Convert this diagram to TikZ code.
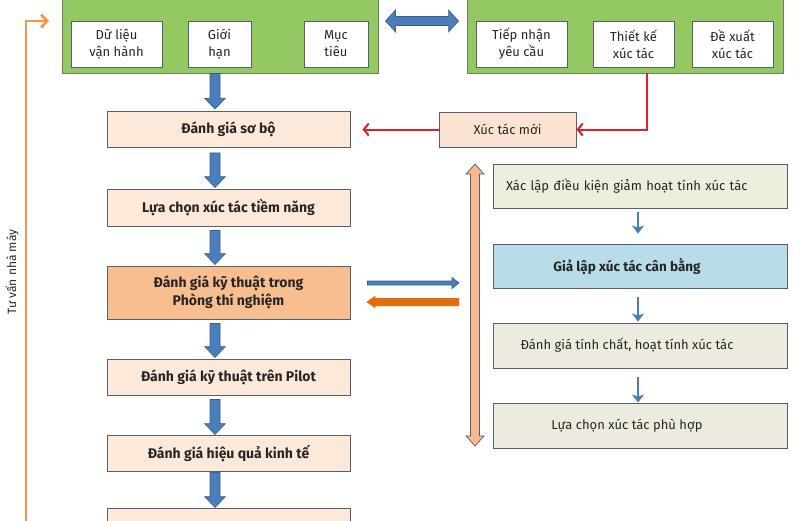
\documentclass[tikz,border=0pt]{standalone}
\usepackage{fontspec}
\setmainfont{Fira Sans}
\usetikzlibrary{calc,arrows.meta}
\definecolor{grnfill}{HTML}{93C862}
\definecolor{grnedge}{HTML}{6A7F5A}
\definecolor{edge}{HTML}{55606B}
\definecolor{peach}{HTML}{FDE9D9}
\definecolor{peachdark}{HTML}{F9BE8F}
\definecolor{xtmfill}{HTML}{FBE3D3}
\definecolor{r1fill}{HTML}{EAF0DC}
\definecolor{r2fill}{HTML}{B8DDE8}
\definecolor{r3fill}{HTML}{EDEBE0}
\definecolor{bluearr}{HTML}{4A7EBB}
\definecolor{blueedge}{HTML}{3A5F8F}
\definecolor{lorange}{HTML}{F9B98A}
\definecolor{orangeline}{HTML}{F79646}
\definecolor{dorange}{HTML}{E46C0A}
\definecolor{redline}{HTML}{E31E24}
\definecolor{txt}{HTML}{262626}
\begin{document}
\begin{tikzpicture}[x=1pt,y=-1pt,
  bx/.style={draw=edge, line width=0.9pt, inner sep=0pt, text=txt},
  grn/.style={bx, fill=grnfill, draw=grnedge},
  wbox/.style={bx, fill=white, align=center, minimum height=46pt, font=\fontsize{13}{17}\selectfont},
  lbox/.style={bx, fill=peach, minimum width=243pt, minimum height=36pt, align=center, font=\bfseries\fontsize{14}{18}\selectfont},
  rbox/.style={bx, minimum width=294pt, minimum height=44pt, font=\fontsize{13}{15}\selectfont},
  blk/.style n args={3}{to path={let \p1=(\tikztostart), \p2=(\tikztotarget),
     \n1={atan2(\y2-\y1,\x2-\x1)}, \n2={veclen(\x2-\x1,\y2-\y1)-#3} in
     ($(\p1)+(\n1+90:#1)$) -- ($(\p1)+(\n1:\n2)+(\n1+90:#1)$) -- ($(\p1)+(\n1:\n2)+(\n1+90:#2)$) -- (\p2)
     -- ($(\p1)+(\n1:\n2)+(\n1-90:#2)$) -- ($(\p1)+(\n1:\n2)+(\n1-90:#1)$) -- ($(\p1)+(\n1-90:#1)$) -- cycle}},
  dblk/.style n args={3}{to path={let \p1=(\tikztostart), \p2=(\tikztotarget),
     \n1={atan2(\y2-\y1,\x2-\x1)}, \n2={veclen(\x2-\x1,\y2-\y1)-#3} in
     (\p1) -- ($(\p1)+(\n1:#3)+(\n1+90:#2)$) -- ($(\p1)+(\n1:#3)+(\n1+90:#1)$) -- ($(\p1)+(\n1:\n2)+(\n1+90:#1)$)
     -- ($(\p1)+(\n1:\n2)+(\n1+90:#2)$) -- (\p2) -- ($(\p1)+(\n1:\n2)+(\n1-90:#2)$) -- ($(\p1)+(\n1:\n2)+(\n1-90:#1)$)
     -- ($(\p1)+(\n1:#3)+(\n1-90:#1)$) -- ($(\p1)+(\n1:#3)+(\n1-90:#2)$) -- cycle}},
  bigblue/.style={fill=bluearr, draw=blueedge, line width=0.6pt},
  smallblue/.style={draw=bluearr, line width=2.4pt, -{Stealth[length=8pt,width=12pt,inset=2pt]}},
  redarr/.style={draw=redline, line width=2pt, -{Straight Barb[length=5pt,width=12pt]}},
]
\useasboundingbox (0,0) rectangle (800,520);

% green boxes
\node[grn, minimum width=316pt, minimum height=83pt] (gL) at (220,31.5) {};
\node[grn, minimum width=316pt, minimum height=83pt] (gR) at (625,31.5) {};
\node[wbox, minimum width=91pt] (dl) at (116.5,44) {Dữ liệu\\vận hành};
\node[wbox, minimum width=63pt] (gh) at (219.5,44) {Giới\\hạn};
\node[wbox, minimum width=64pt] (mt) at (336,44) {Mục\\tiêu};
\node[wbox, minimum width=91pt] (tn) at (521.5,44) {Tiếp nhận\\yêu cầu};
\node[wbox, minimum width=81pt] (tk) at (633.5,44) {Thiết kế\\xúc tác};
\node[wbox, minimum width=81pt] (dx) at (732.5,44) {Đề xuất\\xúc tác};

% left column
\node[lbox] (sobo) at (228.5,129.5) {Đánh giá sơ bộ};
\node[lbox, minimum height=37pt] (luachon) at (228.5,207.5) {Lựa chọn xúc tác tiềm năng};
\node[lbox, fill=peachdark, minimum height=53pt] (ptn) at (228.5,292.5) {Đánh giá kỹ thuật trong\\Phòng thí nghiệm};
\node[lbox] (pilot) at (228.5,377) {Đánh giá kỹ thuật trên Pilot};
\node[lbox] (kinhte) at (228.5,453) {Đánh giá hiệu quả kinh tế};
\node[lbox] (cuoi) at (228.5,526) {};

% new catalyst
\node[bx, fill=xtmfill, minimum width=137pt, minimum height=35pt, font=\fontsize{13}{15}\selectfont] (xtm) at (507.5,129.5) {Xúc tác mới};

% right column
\node[rbox, fill=r1fill, text width=268pt, inner xsep=13pt, align=left] (r1) at (640,186) {Xác lập điều kiện giảm hoạt tính xúc tác};
\node[rbox, fill=r2fill, font=\bfseries\fontsize{13.5}{15}\selectfont] (r2) at (640,266) {Giả lập xúc tác cân bằng\hspace*{26pt}};
\node[rbox, fill=r3fill, minimum height=45pt] (r3) at (640,345.5) {Đánh giá tính chất, hoạt tính xúc tác\hspace*{26pt}};
\node[rbox, fill=r3fill, minimum height=45pt] (r4) at (640,425.5) {Lựa chọn xúc tác phù hợp\hspace*{26pt}};

% side label
\node[rotate=90, text=txt, font=\fontsize{12}{14}\selectfont] (tuvan) at (12,272) {Tư vấn nhà máy};

% coordinates
\coordinate (ax) at (215,0);
\coordinate (rx) at (638,0);
\coordinate (tkc) at (647,73);
\coordinate (ob) at (26,530);
\coordinate (ot) at (49,21);
\coordinate (vtop) at (475,164);
\coordinate (vbot) at (475,446);
\path ($(gL.east)+(7,-10.5)$) coordinate (da1) ($(gR.west)+(-8,-10.5)$) coordinate (da2);

% orange feedback line
\draw[orangeline, line width=2.8pt, -{Straight Barb[length=6pt,width=13pt]}] (ob) |- (ot);

% top double arrow
\draw[bigblue] (da1) to[dblk={4.5pt}{11pt}{10pt}] (da2);

% blue down arrows
\draw[bigblue] (gL.south -| ax) to[blk={5pt}{10.5pt}{11pt}] ($(sobo.north -| ax)+(0,-2)$);
\draw[bigblue] ($(sobo.south -| ax)+(0,5)$) to[blk={5pt}{10.5pt}{11pt}] ($(luachon.north -| ax)+(0,-1)$);
\draw[bigblue] ($(luachon.south -| ax)+(0,4)$) to[blk={5pt}{10.5pt}{11pt}] ($(ptn.north -| ax)+(0,-1)$);
\draw[bigblue] ($(ptn.south -| ax)+(0,4)$) to[blk={5pt}{10.5pt}{11pt}] ($(pilot.north -| ax)+(0,-1)$);
\draw[bigblue] ($(pilot.south -| ax)+(0,4)$) to[blk={5pt}{10.5pt}{11pt}] ($(kinhte.north -| ax)+(0,0)$);
\draw[bigblue] ($(kinhte.south -| ax)+(0,1)$) to[blk={5pt}{10.5pt}{11pt}] ($(cuoi.north -| ax)+(0,0)$);

% red connectors
\draw[redarr] (tkc) |- (xtm.east);
\draw[redarr, shorten >=12pt] (xtm.west) -- (sobo.east);

% vertical orange double arrow
\draw[fill=lorange, draw=edge, line width=0.7pt] (vtop) to[dblk={4.5pt}{9pt}{10pt}] (vbot);

% horizontal arrows between lab box and right column
\draw[bigblue] ($(ptn.east)+(17,-9.5)$) to[blk={2pt}{5.5pt}{7pt}] ($(vtop |- ptn.east)+(-16,-9.5)$);
\draw[fill=dorange, draw=none] ($(vtop |- ptn.east)+(-16,9.5)$) to[blk={4pt}{6.5pt}{9pt}] ($(ptn.east)+(16,9.5)$);

% small blue arrows on the right
\draw[smallblue] ($(r1.south -| rx)+(0,4)$) -- ($(r2.north -| rx)+(0,-10)$);
\draw[smallblue] ($(r2.south -| rx)+(0,9)$) -- ($(r3.north -| rx)+(0,-1)$);
\draw[smallblue] ($(r3.south -| rx)+(0,9)$) -- ($(r4.north -| rx)+(0,0)$);
\end{tikzpicture}
\end{document}
